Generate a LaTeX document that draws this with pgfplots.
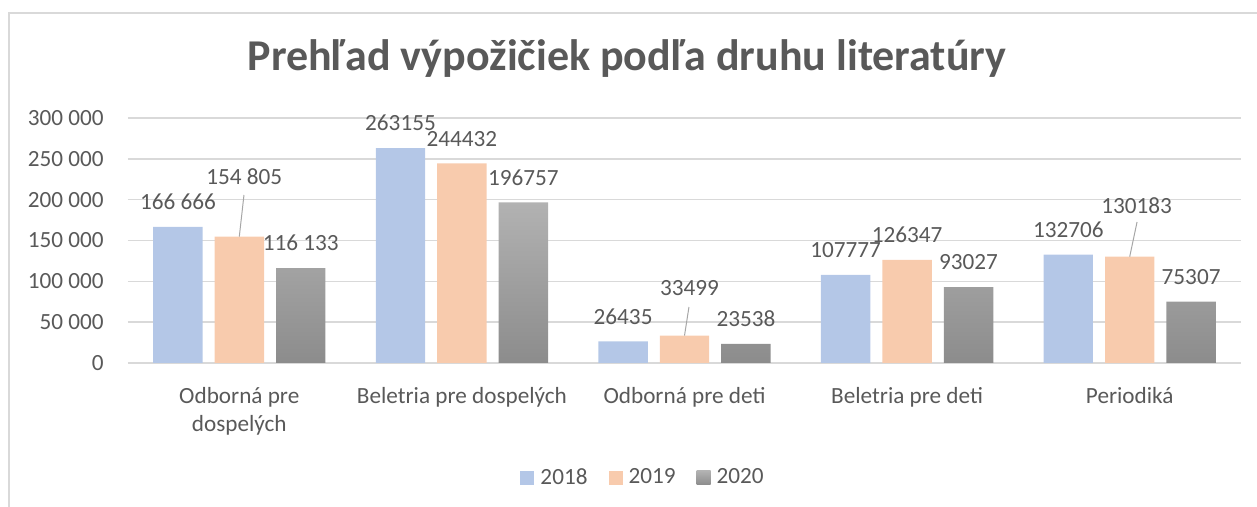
\documentclass[border=0pt]{standalone}
\usepackage{fontspec}
\setmainfont{Carlito}
\usepackage{pgfplots}
\usepackage{pgfplotstable}
\pgfplotsset{compat=1.18}

\definecolor{txt}{HTML}{595959}
\definecolor{gridc}{HTML}{D9D9D9}
\definecolor{c18}{HTML}{B4C7E7}
\definecolor{c19}{HTML}{F8CBAD}
\definecolor{gtop}{HTML}{B2B2B2}
\definecolor{gbot}{HTML}{8C8C8C}
\definecolor{leader}{HTML}{A6A6A6}

% x = category, y = value, dx/dy = extra label offset (bp), lab = shown label
\pgfplotstableread[col sep=comma]{
x,y,dx,dy,lab
0,166666,0,0,166 666
1,263155,0,0,263155
2,26435,0,0,26435
3,107777,0,0,107777
4,132706,0,0,132706
}\tEighteen
\pgfplotstableread[col sep=comma]{
x,y,dx,dy,lab
0,154805,2.5,17.5,154 805
1,244432,0,0,244432
2,33499,2.5,11.5,33499
3,126347,0,0,126347
4,130183,3.5,13,130183
}\tNineteen
\pgfplotstableread[col sep=comma]{
x,y,dx,dy,lab
0,116133,0,0,116 133
1,196757,0,0,196757
2,23538,0,0,23538
3,93027,0,0,93027
4,75307,0,0,75307
}\tTwenty

\newcommand{\lblfont}{\fontsize{11.6bp}{14bp}\selectfont}

\pgfplotsset{
  barlab/.style={
    ybar, bar width=0.222, bar shift=#1*0.276, draw=none,
    point meta=explicit symbolic,
    visualization depends on={\thisrow{dx}\as\dx},
    visualization depends on={\thisrow{dy}\as\dy},
    nodes near coords={\pgfplotspointmeta},
    nodes near coords style={font=\lblfont, text=txt, inner sep=0pt, anchor=south,
      xshift=\dx bp + #1*30.7bp, yshift=8.3bp+\dy bp},
  },
}

\begin{document}
\begin{tikzpicture}
\path[use as bounding box] (-64bp,-72bp) rectangle (564.5bp,181.5bp);
\draw[gridc, line width=0.75bp] (-59.5bp,-90bp) -- (-59.5bp,175bp) -- (600bp,175bp);
\begin{axis}[
  scale only axis,
  width=556.5bp, height=122.5bp,
  xmin=-0.5, xmax=4.5,
  ymin=0, ymax=300000,
  ytick={0,50000,100000,150000,200000,250000,300000},
  yticklabels={0,50 000,100 000,150 000,200 000,250 000,300 000},
  scaled y ticks=false,
  xtick={0,1,2,3,4},
  xticklabels={Odborná pre\\dospelých, Beletria pre dospelých, Odborná pre deti, Beletria pre deti, Periodiká},
  axis line style={draw=none},
  tick style={draw=none},
  ymajorgrids,
  grid style={gridc, line width=0.75bp},
  yticklabel style={anchor=east, inner sep=0pt, xshift=-12bp, font=\lblfont, text=txt},
  xticklabel style={anchor=north, inner sep=0pt, yshift=-12bp, align=center, font=\lblfont, text=txt},
  title={Prehľad výpožičiek podľa druhu literatúry},
  title style={at={(0.4483,1.147)}, anchor=base, yshift=0pt, inner sep=0pt, font=\fontsize{22bp}{26bp}\selectfont\bfseries, text=txt},
  legend style={draw=none, fill=none, at={(0.4632,-0.469)}, anchor=center,
    legend columns=-1, font=\lblfont, text=txt,
    /tikz/every odd column/.append style={column sep=1.5bp},
    /tikz/every even column/.append style={column sep=9bp},
    nodes={inner sep=1.5bp}},
  legend image code/.code={\path[#1, draw=none] (0bp,-3.5bp) rectangle (7bp,3.5bp);},
]
\addplot[barlab=-1, fill=c18]
  table[x=x, y=y, meta=lab] {\tEighteen};
\addlegendentry{2018}
\addplot[barlab=0, fill=c19]
  table[x=x, y=y, meta=lab] {\tNineteen};
\addlegendentry{2019}
\addplot[barlab=1, top color=gtop, bottom color=gbot]
  table[x=x, y=y, meta=lab] {\tTwenty};
\addlegendentry{2020}
% leader lines of the moved labels
\addplot[leader, line width=0.5bp, no marks, forget plot] coordinates {(0,154805) (0.021,205700)};
\addplot[leader, line width=0.5bp, no marks, forget plot] coordinates {(2,33499) (2.020,68570)};
\addplot[leader, line width=0.5bp, no marks, forget plot] coordinates {(4,130183) (4.033,172650)};
\end{axis}
\end{tikzpicture}
\end{document}
